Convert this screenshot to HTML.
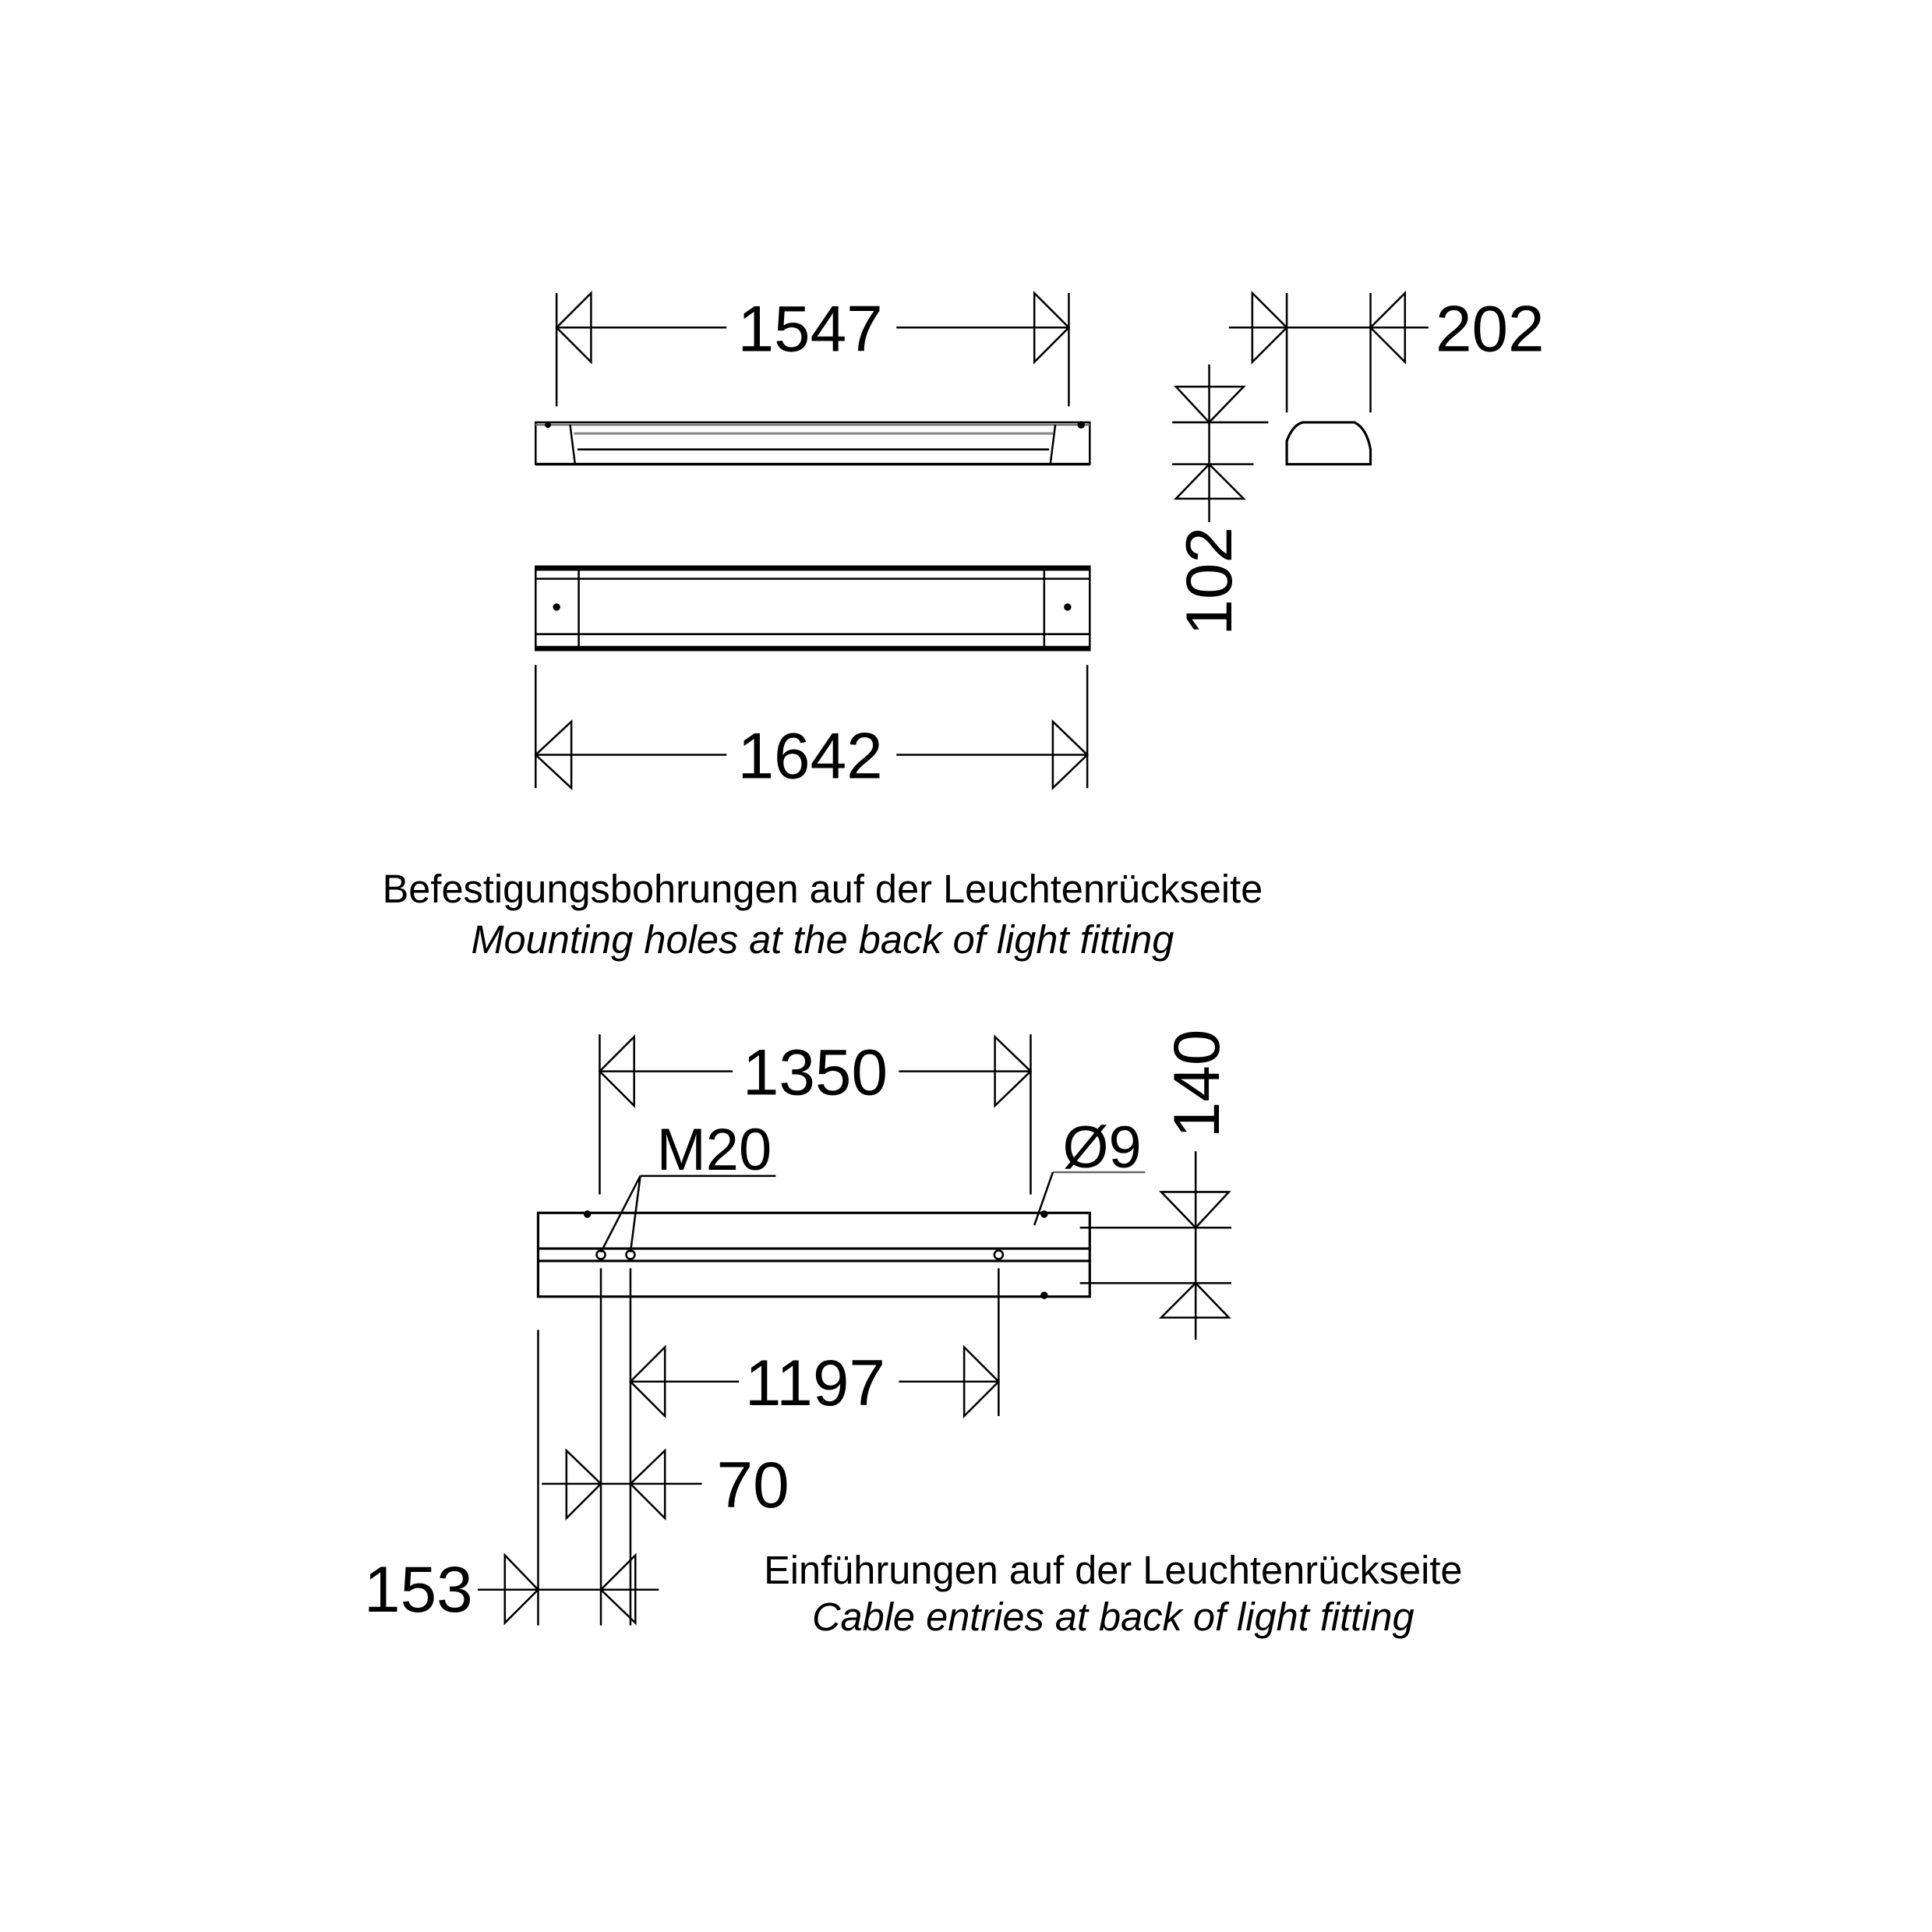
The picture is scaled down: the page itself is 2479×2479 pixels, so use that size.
<!DOCTYPE html>
<html><head><meta charset="utf-8"><style>html,body{margin:0;padding:0;background:#fff}svg{display:block}</style></head>
<body>
<svg width="2479" height="2479" viewBox="0 0 1569 1569" xmlns="http://www.w3.org/2000/svg" font-family="Liberation Sans, sans-serif">
<g stroke="#000" stroke-width="1.6" fill="none">
<!-- 1547 -->
<line x1="452" y1="238" x2="452" y2="330"/><line x1="868" y1="238" x2="868" y2="330"/>
<line x1="452" y1="266" x2="590" y2="266"/><line x1="728" y1="266" x2="868" y2="266"/>
<polygon points="452,266 480,238 480,294"/><polygon points="868,266 840,238 840,294"/>
<!-- top view -->
<rect x="435" y="343" width="450" height="34"/>
<line x1="435" y1="345" x2="885" y2="345" stroke="#777"/>
<line x1="466" y1="352" x2="855" y2="352" stroke="#888" stroke-width="2"/>
<line x1="469" y1="365" x2="852" y2="365"/>
<line x1="435" y1="377" x2="885" y2="377" stroke-width="2.2"/>
<path d="M463 345 L467 377 M857 345 L853 377"/>
<!-- side profile -->
<path d="M1045 377 L1045 358 Q1050 345 1058 343 L1100 343 Q1110 348 1113 365 L1113 377 Z" stroke-width="2"/>
<!-- 202 -->
<line x1="1045" y1="238" x2="1045" y2="335"/><line x1="1113" y1="238" x2="1113" y2="335"/>
<line x1="998" y1="266" x2="1160" y2="266"/>
<polygon points="1045,266 1017,238 1017,294"/><polygon points="1113,266 1141,238 1141,294"/>
<!-- 102 -->
<line x1="982" y1="296" x2="982" y2="424"/>
<line x1="952" y1="343" x2="1030" y2="343"/><line x1="952" y1="377" x2="1018" y2="377"/>
<polygon points="982,343 955,314 1010,314"/><polygon points="982,377 955,405 1010,405"/>
<!-- front view -->
<rect x="435" y="460" width="450" height="68"/>
<line x1="435" y1="462" x2="885" y2="462" stroke-width="3"/>
<line x1="435" y1="470" x2="885" y2="470"/>
<line x1="435" y1="515" x2="885" y2="515"/>
<line x1="435" y1="526" x2="885" y2="526" stroke-width="3"/>
<line x1="470" y1="460" x2="470" y2="528"/><line x1="848" y1="460" x2="848" y2="528"/>
<!-- 1642 -->
<line x1="435" y1="540" x2="435" y2="640"/><line x1="883" y1="540" x2="883" y2="640"/>
<line x1="435" y1="613" x2="590" y2="613"/><line x1="728" y1="613" x2="883" y2="613"/>
<polygon points="435,613 464,586 464,640"/><polygon points="883,613 855,586 855,640"/>
<!-- bottom view -->
<rect x="437" y="985" width="448" height="68" stroke-width="2"/>
<line x1="437" y1="1014" x2="885" y2="1014" stroke-width="2"/>
<line x1="437" y1="1024" x2="885" y2="1024" stroke-width="2"/>
<circle cx="488" cy="1019" r="3.5"/><circle cx="512" cy="1019" r="3.5"/><circle cx="811" cy="1019" r="3.5"/>
<!-- 1350 -->
<line x1="487" y1="840" x2="487" y2="970"/><line x1="837" y1="840" x2="837" y2="970"/>
<line x1="487" y1="870" x2="595" y2="870"/><line x1="730" y1="870" x2="837" y2="870"/>
<polygon points="487,870 515,842 515,898"/><polygon points="837,870 808,842 808,898"/>
<!-- M20 -->
<line x1="520" y1="955" x2="630" y2="955"/>
<line x1="520" y1="955" x2="488" y2="1017"/><line x1="520" y1="955" x2="512" y2="1017"/>
<!-- Ø9 -->
<line x1="855" y1="952" x2="930" y2="952" stroke="#666"/>
<line x1="855" y1="952" x2="840" y2="995"/>
<!-- 140 -->
<line x1="971" y1="935" x2="971" y2="1088"/>
<line x1="877" y1="997" x2="1000" y2="997"/><line x1="877" y1="1042" x2="1000" y2="1042"/>
<polygon points="971,997 943,968 998,968"/><polygon points="971,1042 943,1070 998,1070"/>
<!-- 1197 -->
<line x1="512" y1="1030" x2="512" y2="1320"/><line x1="811" y1="1030" x2="811" y2="1150"/>
<line x1="512" y1="1122" x2="600" y2="1122"/><line x1="730" y1="1122" x2="811" y2="1122"/>
<polygon points="512,1122 540,1094 540,1150"/><polygon points="811,1122 783,1094 783,1150"/>
<!-- 70 -->
<line x1="488" y1="1030" x2="488" y2="1320"/>
<line x1="440" y1="1205" x2="570" y2="1205"/>
<polygon points="488,1205 460,1178 460,1233"/><polygon points="512,1205 540,1178 540,1233"/>
<!-- 153 -->
<line x1="437" y1="1080" x2="437" y2="1320"/>
<line x1="388" y1="1291" x2="535" y2="1291"/>
<polygon points="437,1291 410,1263 410,1318"/><polygon points="488,1291 516,1263 516,1318"/>
</g>
<g fill="#000">
<circle cx="452" cy="493" r="3"/><circle cx="867" cy="493" r="3"/>
<circle cx="477" cy="986" r="3"/><circle cx="848" cy="986" r="3"/><circle cx="848" cy="1052" r="3"/>
<circle cx="445" cy="345" r="2.5"/><circle cx="878" cy="345" r="3"/>
</g>
<g fill="#000" font-size="53">
<text x="658" y="285" text-anchor="middle">1547</text>
<text x="1210" y="285" text-anchor="middle">202</text>
<text x="658" y="632" text-anchor="middle">1642</text>
<text x="662" y="889" text-anchor="middle">1350</text>
<text x="662" y="1141" text-anchor="middle">1197</text>
<text x="582" y="1224">70</text>
<text x="384" y="1309" text-anchor="end">153</text>
<text x="1000" y="472" text-anchor="middle" transform="rotate(-90 1000 472)">102</text>
<text x="990" y="880" text-anchor="middle" transform="rotate(-90 990 880)">140</text>
<text x="580" y="950" text-anchor="middle" font-size="48">M20</text>
<text x="895" y="948" text-anchor="middle" font-size="48">Ø9</text>
</g>
<g fill="#000" font-size="32" text-anchor="middle">
<text x="668" y="733">Befestigungsbohrungen auf der Leuchtenrückseite</text>
<text x="668" y="774" font-style="italic">Mounting holes at the back of light fitting</text>
<text x="904" y="1286">Einführungen auf der Leuchtenrückseite</text>
<text x="904" y="1324" font-style="italic">Cable entries at back of light fitting</text>
</g>
</svg>
</body></html>
